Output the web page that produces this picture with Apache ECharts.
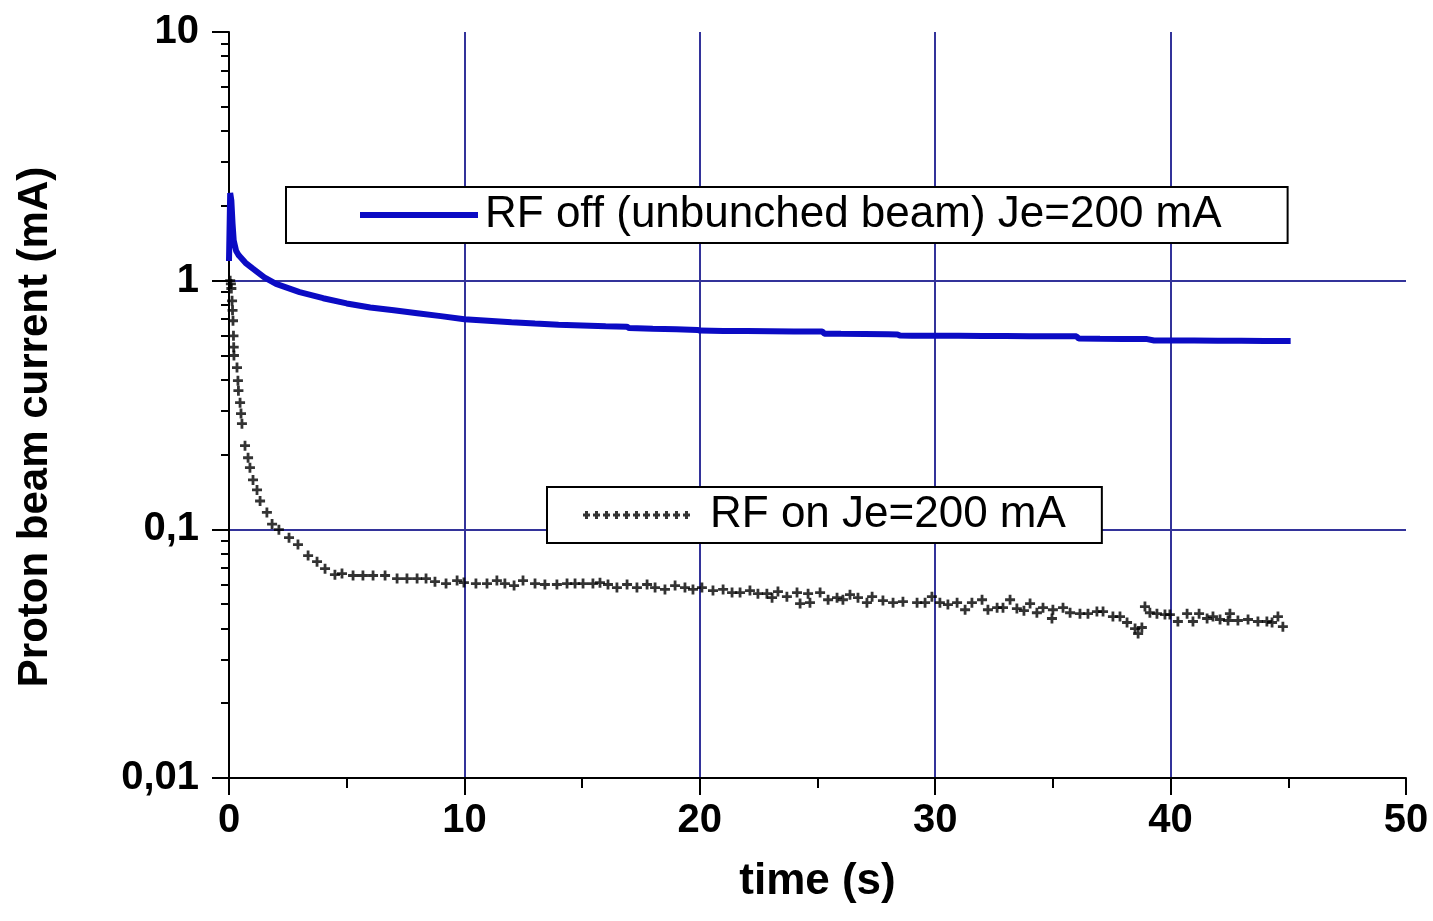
<!DOCTYPE html>
<html>
<head>
<meta charset="utf-8">
<script src="https://cdn.jsdelivr.net/npm/echarts@6/dist/echarts.min.js"></script>
<style>
html,body{margin:0;padding:0;background:#fff;}
#chart{width:1433px;height:921px;}
</style>
</head>
<body>
<div id="chart"></div>
<script>
// ---- data ----
const offName = 'RF off (unbunched beam) Je=200 mA';
const onName = 'RF on Je=200 mA';
const xTicks = [0, 10, 20, 30, 40, 50];
const yTickLabels = ['0,01', '0,1', '1', '10'];

const offTime = [0, 0.05, 0.1, 0.15, 0.2, 0.3, 0.4, 0.5, 0.7, 1, 1.5, 2, 3, 4, 5, 6, 7, 8, 9, 10,
  11, 12, 13, 14, 15, 16, 16.9, 17, 18, 19, 19.9, 20, 21, 22, 23, 24, 25.2, 25.3, 26, 27, 28, 28.4, 28.5,
  29, 30, 31, 32, 33, 34, 35, 36, 36.1, 37, 38, 39, 39.3, 40, 41, 42, 43, 44, 45.1];
const offCurrent = [1.2, 2.25, 2.1, 1.7, 1.45, 1.32, 1.27, 1.24, 1.18, 1.12, 1.03, 0.97, 0.9, 0.85, 0.81, 0.78, 0.76, 0.74, 0.72, 0.70,
  0.69, 0.68, 0.672, 0.665, 0.66, 0.655, 0.653, 0.645, 0.64, 0.637, 0.634, 0.63, 0.628, 0.627, 0.626, 0.625, 0.624, 0.612, 0.611, 0.61, 0.609, 0.608, 0.602,
  0.601, 0.6, 0.6, 0.599, 0.599, 0.598, 0.598, 0.597, 0.585, 0.584, 0.583, 0.582, 0.575, 0.574, 0.574, 0.573, 0.573, 0.572, 0.572];

const onTime = [0.05, 0.08, 0.1, 0.13, 0.15, 0.17, 0.19, 0.2, 0.21, 0.34, 0.38, 0.4, 0.47, 0.51, 0.55, 0.68, 0.81, 0.89, 1.02, 1.19,
  1.32, 1.61, 1.83, 2.12, 2.55, 2.93, 3.36, 3.74, 4.08, 4.5, 4.8, 5.27, 5.69, 6.12, 6.63, 7.14, 7.56, 7.99, 8.37, 8.75,
  9.22, 9.69, 9.98, 10.49, 10.96, 11.38, 11.72, 12.11, 12.49, 13.0, 13.42, 13.93, 14.36, 14.7, 15.04, 15.46, 15.76, 16.1, 16.48, 16.91,
  17.33, 17.76, 18.1, 18.52, 18.95, 19.37, 19.71, 20.09, 20.56, 20.99, 21.37, 21.71, 22.13, 22.47, 22.85, 23.07, 23.32, 23.7, 24.13, 24.26,
  24.6, 24.68, 25.11, 25.45, 25.83, 26.08, 26.38, 26.72, 27.1, 27.32, 27.78, 28.21, 28.63, 29.23, 29.57, 29.86, 30.2, 30.54, 30.93, 31.27,
  31.56, 31.99, 32.24, 32.63, 32.88, 33.18, 33.47, 33.77, 34.03, 34.32, 34.58, 34.96, 35.0, 35.43, 35.73, 36.15, 36.49, 36.87, 37.13, 37.55,
  37.85, 38.15, 38.49, 38.62, 38.78, 38.91, 39.12, 39.42, 39.76, 39.97, 40.31, 40.7, 40.95, 41.21, 41.55, 41.8, 42.1, 42.44, 42.52, 42.86,
  43.29, 43.71, 44.09, 44.31, 44.56, 44.77];
const onCurrent = [1.0, 0.97, 0.93, 0.83, 0.76, 0.69, 0.6, 0.54, 0.5, 0.447, 0.396, 0.361, 0.323, 0.292, 0.266, 0.217, 0.194, 0.177, 0.158, 0.144,
  0.130, 0.117, 0.105, 0.0997, 0.0926, 0.0868, 0.0784, 0.0741, 0.0695, 0.0657, 0.0664, 0.0652, 0.0652, 0.0652, 0.0652, 0.0634, 0.0634, 0.0634, 0.0634, 0.0616,
  0.0605, 0.0622, 0.0611, 0.0605, 0.0605, 0.0622, 0.0605, 0.0594, 0.0622, 0.0605, 0.06, 0.06, 0.0605, 0.0605, 0.0605, 0.0605, 0.061, 0.06, 0.0583, 0.06,
  0.0583, 0.06, 0.0583, 0.0573, 0.0594, 0.0583, 0.0573, 0.0583, 0.0567, 0.0573, 0.0557, 0.0557, 0.0567, 0.0551, 0.0551, 0.0531, 0.0562, 0.0536, 0.0557, 0.0503,
  0.0551, 0.0507, 0.0557, 0.0521, 0.0531, 0.0521, 0.0546, 0.0531, 0.0507, 0.0536, 0.0517, 0.0507, 0.0512, 0.0507, 0.0507, 0.0536, 0.0507, 0.0498, 0.0507, 0.0475,
  0.0507, 0.0521, 0.0475, 0.0484, 0.0484, 0.0521, 0.048, 0.0471, 0.0503, 0.0462, 0.0484, 0.0438, 0.0475, 0.0484, 0.0462, 0.0458, 0.0458, 0.0467, 0.0467, 0.0446,
  0.0446, 0.0422, 0.0399, 0.0381, 0.0403, 0.0489, 0.0462, 0.0458, 0.0454, 0.0454, 0.0426, 0.0458, 0.0426, 0.0458, 0.0438, 0.0446, 0.0434, 0.043, 0.0458, 0.043,
  0.0434, 0.0426, 0.0426, 0.0422, 0.0446, 0.0406];

// ---- build ----
const offData = offTime.map((t, i) => [t, offCurrent[i]]);
const onData = onTime.map((t, i) => [t, onCurrent[i]]);
const yMinor = [];
[0.01, 0.1, 1].forEach(d => { for (let k = 2; k <= 9; k++) yMinor.push(+(k * d).toPrecision(3)); });
const yMajor = [0.01, 0.1, 1, 10];

let plusRow = '';
for (let i = 0; i < 11; i++) {
  const cx = 5 + 10 * i;
  plusRow += `M${cx - 3.5},3.5h7v3h-7z M${cx - 1.5},1h3v8h-3z `;
}
const plusSym = 'path://M0,3.6h10v2.8h-10z M3.6,0h2.8v10h-2.8z';

const FONT = 'Arial, "Liberation Sans", sans-serif';
const GRIDC = '#33339a';

const chart = echarts.init(document.getElementById('chart'), null, {renderer: 'canvas'});
chart.setOption({
  backgroundColor: '#ffffff',
  animation: false,
  grid: {left: 229, right: 27, top: 32, bottom: 143},
  legend: [
    {
      left: 286, top: 187,
      padding: [6, 66, 6, 74],
      backgroundColor: '#fff', borderColor: '#000', borderWidth: 2,
      itemWidth: 118, itemHeight: 6,
      textStyle: {fontFamily: FONT, fontSize: 44, color: '#000', padding: [0, 0, 0, 2]},
      data: [{name: offName, icon: 'rect'}]
    },
    {
      left: 547, top: 487,
      padding: [6, 36, 6, 36],
      backgroundColor: '#fff', borderColor: '#000', borderWidth: 2,
      itemWidth: 107, itemHeight: 8,
      textStyle: {fontFamily: FONT, fontSize: 44, color: '#000', padding: [0, 0, 0, 15]},
      data: [{name: onName, icon: 'path://' + plusRow}]
    }
  ],
  xAxis: {
    type: 'value', min: 0, max: 50, interval: 10,
    name: 'time (s)', nameLocation: 'middle', nameGap: 82,
    nameTextStyle: {fontFamily: FONT, fontSize: 44, fontWeight: 'bold', color: '#000'},
    axisLine: {show: true, lineStyle: {color: '#000', width: 2}},
    axisTick: {show: true, inside: false, length: 17, lineStyle: {color: '#000', width: 2}},
    minorTick: {show: true, splitNumber: 2, length: 10, lineStyle: {color: '#000', width: 2}},
    axisLabel: {fontFamily: FONT, fontSize: 40, fontWeight: 'bold', color: '#000', margin: 23,
      formatter: v => String(xTicks[xTicks.indexOf(v)])},
    splitLine: {show: true, showMinLine: false, showMaxLine: false, lineStyle: {color: GRIDC, width: 2}}
  },
  yAxis: [
    {
      type: 'log', logBase: 10, min: 0.01, max: 10,
      name: 'Proton beam current (mA)', nameLocation: 'middle', nameGap: 173, nameRotate: 90,
      nameTextStyle: {fontFamily: FONT, fontSize: 42, fontWeight: 'bold', color: '#000', padding: [0, 44, 0, 0]},
      axisLine: {show: true, lineStyle: {color: '#000', width: 2}},
      axisTick: {show: true, inside: false, length: 17, lineStyle: {color: '#000', width: 2}, customValues: yMajor},
      axisLabel: {fontFamily: FONT, fontSize: 40, fontWeight: 'bold', color: '#000', margin: 30,
        customValues: yMajor,
        formatter: v => yTickLabels[yMajor.findIndex(m => Math.abs(Math.log10(m) - Math.log10(v)) < 1e-6)]},
      splitLine: {show: true, showMinLine: false, showMaxLine: false, lineStyle: {color: GRIDC, width: 2}}
    },
    {
      type: 'log', logBase: 10, min: 0.01, max: 10, position: 'left',
      axisLine: {show: false},
      axisLabel: {show: false},
      splitLine: {show: false},
      axisTick: {show: true, inside: false, length: 8, lineStyle: {color: '#000', width: 2}, customValues: yMinor}
    }
  ],
  series: [
    {
      name: offName, type: 'line', data: offData, showSymbol: false, symbol: 'none',
      lineStyle: {color: '#0b0bc4', width: 6}, itemStyle: {color: '#0b0bc4'}, z: 3
    },
    {
      name: onName, type: 'scatter', data: onData, symbol: plusSym, symbolSize: 10,
      itemStyle: {color: '#000'}, z: 4
    }
  ]
});
</script>
</body>
</html>
